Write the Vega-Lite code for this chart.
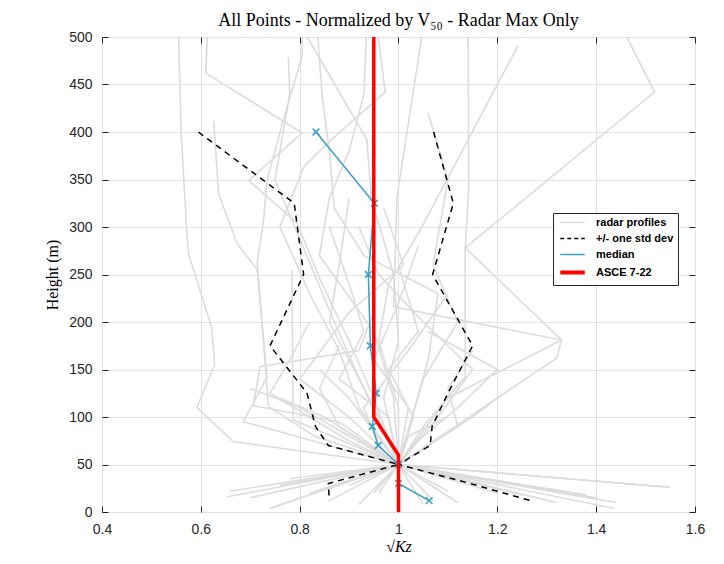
{
  "$schema": "https://vega.github.io/schema/vega-lite/v6.json",
  "width": 593,
  "height": 475,
  "autosize": {"type": "none"},
  "padding": {"left": 102, "top": 37, "right": 29, "bottom": 52},
  "background": "white",
  "config": {
    "view": {"stroke": "#262626", "strokeWidth": 1},
    "axis": {"domain": false, "labelFont": "Liberation Sans", "labelFontSize": 14, "labelColor": "#262626", "tickColor": "#262626", "tickSize": -6, "titleFont": "Liberation Serif", "titleFontWeight": "normal", "titleColor": "#000000", "titleFontSize": 16, "gridColor": "#e3e3e3", "gridWidth": 1}
  },
  "title": {"text": "All Points - Normalized by V₅₀ - Radar Max Only", "font": "Liberation Serif", "fontSize": 18, "fontWeight": "normal", "color": "#000000", "anchor": "middle", "offset": 0},
  "data": {"values": [
    {"s":"radar profiles","g":"p1","o":1,"x":0.555,"h":500},{"s":"radar profiles","g":"p1","o":2,"x":0.56,"h":400},{"s":"radar profiles","g":"p1","o":3,"x":0.571,"h":300},{"s":"radar profiles","g":"p1","o":4,"x":0.575,"h":272},{"s":"radar profiles","g":"p1","o":5,"x":0.622,"h":194},{"s":"radar profiles","g":"p1","o":6,"x":0.628,"h":155},{"s":"radar profiles","g":"p1","o":7,"x":0.592,"h":110},{"s":"radar profiles","g":"p1","o":8,"x":0.666,"h":74},{"s":"radar profiles","g":"p1","o":9,"x":1.0,"h":50},{"s":"radar profiles","g":"p1","o":10,"x":0.653,"h":16},
    {"s":"radar profiles","g":"p2","o":1,"x":0.613,"h":500},{"s":"radar profiles","g":"p2","o":2,"x":0.61,"h":462},{"s":"radar profiles","g":"p2","o":3,"x":0.805,"h":399},{"s":"radar profiles","g":"p2","o":4,"x":0.697,"h":349},{"s":"radar profiles","g":"p2","o":5,"x":0.795,"h":304},{"s":"radar profiles","g":"p2","o":6,"x":0.842,"h":244},{"s":"radar profiles","g":"p2","o":7,"x":0.9,"h":180},{"s":"radar profiles","g":"p2","o":8,"x":0.95,"h":120},{"s":"radar profiles","g":"p2","o":9,"x":1.0,"h":50},{"s":"radar profiles","g":"p2","o":10,"x":1.2,"h":20},
    {"s":"radar profiles","g":"p3","o":1,"x":0.805,"h":500},{"s":"radar profiles","g":"p3","o":2,"x":0.805,"h":480},{"s":"radar profiles","g":"p3","o":3,"x":0.767,"h":413},{"s":"radar profiles","g":"p3","o":4,"x":0.734,"h":349},{"s":"radar profiles","g":"p3","o":5,"x":0.727,"h":307},{"s":"radar profiles","g":"p3","o":6,"x":0.714,"h":263},{"s":"radar profiles","g":"p3","o":7,"x":0.737,"h":111},{"s":"radar profiles","g":"p3","o":8,"x":0.83,"h":80},{"s":"radar profiles","g":"p3","o":9,"x":1.0,"h":50},{"s":"radar profiles","g":"p3","o":10,"x":0.781,"h":35},
    {"s":"radar profiles","g":"p4","o":1,"x":0.626,"h":412},{"s":"radar profiles","g":"p4","o":2,"x":0.636,"h":335},{"s":"radar profiles","g":"p4","o":3,"x":0.673,"h":283},{"s":"radar profiles","g":"p4","o":4,"x":0.714,"h":255},{"s":"radar profiles","g":"p4","o":5,"x":0.734,"h":142},{"s":"radar profiles","g":"p4","o":6,"x":0.686,"h":95},{"s":"radar profiles","g":"p4","o":7,"x":1.0,"h":50},{"s":"radar profiles","g":"p4","o":8,"x":0.86,"h":25},
    {"s":"radar profiles","g":"p5","o":1,"x":0.815,"h":500},{"s":"radar profiles","g":"p5","o":2,"x":0.936,"h":392},{"s":"radar profiles","g":"p5","o":3,"x":0.945,"h":330},{"s":"radar profiles","g":"p5","o":4,"x":0.99,"h":250},{"s":"radar profiles","g":"p5","o":5,"x":1.0,"h":180},{"s":"radar profiles","g":"p5","o":6,"x":0.97,"h":120},{"s":"radar profiles","g":"p5","o":7,"x":1.0,"h":50},{"s":"radar profiles","g":"p5","o":8,"x":1.394,"h":14},
    {"s":"radar profiles","g":"p6","o":1,"x":0.837,"h":500},{"s":"radar profiles","g":"p6","o":2,"x":0.845,"h":440},{"s":"radar profiles","g":"p6","o":3,"x":0.86,"h":380},{"s":"radar profiles","g":"p6","o":4,"x":0.87,"h":320},{"s":"radar profiles","g":"p6","o":5,"x":0.93,"h":270},{"s":"radar profiles","g":"p6","o":6,"x":1.08,"h":230},{"s":"radar profiles","g":"p6","o":7,"x":1.06,"h":160},{"s":"radar profiles","g":"p6","o":8,"x":1.0,"h":50},{"s":"radar profiles","g":"p6","o":9,"x":0.741,"h":4},
    {"s":"radar profiles","g":"p7","o":1,"x":0.935,"h":500},{"s":"radar profiles","g":"p7","o":2,"x":0.93,"h":440},{"s":"radar profiles","g":"p7","o":3,"x":0.9,"h":380},{"s":"radar profiles","g":"p7","o":4,"x":0.86,"h":330},{"s":"radar profiles","g":"p7","o":5,"x":0.84,"h":270},{"s":"radar profiles","g":"p7","o":6,"x":0.95,"h":190},{"s":"radar profiles","g":"p7","o":7,"x":0.99,"h":120},{"s":"radar profiles","g":"p7","o":8,"x":1.0,"h":50},{"s":"radar profiles","g":"p7","o":9,"x":1.07,"h":12},
    {"s":"radar profiles","g":"p8","o":1,"x":0.959,"h":500},{"s":"radar profiles","g":"p8","o":2,"x":0.973,"h":442},{"s":"radar profiles","g":"p8","o":3,"x":0.862,"h":391},{"s":"radar profiles","g":"p8","o":4,"x":0.808,"h":363},{"s":"radar profiles","g":"p8","o":5,"x":0.76,"h":300},{"s":"radar profiles","g":"p8","o":6,"x":0.82,"h":230},{"s":"radar profiles","g":"p8","o":7,"x":0.88,"h":170},{"s":"radar profiles","g":"p8","o":8,"x":0.92,"h":110},{"s":"radar profiles","g":"p8","o":9,"x":1.0,"h":50},{"s":"radar profiles","g":"p8","o":10,"x":0.9,"h":28},
    {"s":"radar profiles","g":"p9","o":1,"x":1.047,"h":500},{"s":"radar profiles","g":"p9","o":2,"x":0.997,"h":332},{"s":"radar profiles","g":"p9","o":3,"x":0.99,"h":216},{"s":"radar profiles","g":"p9","o":4,"x":1.33,"h":181},{"s":"radar profiles","g":"p9","o":5,"x":1.1,"h":120},{"s":"radar profiles","g":"p9","o":6,"x":1.0,"h":50},{"s":"radar profiles","g":"p9","o":7,"x":1.25,"h":18},
    {"s":"radar profiles","g":"p10","o":1,"x":1.141,"h":500},{"s":"radar profiles","g":"p10","o":2,"x":1.142,"h":340},{"s":"radar profiles","g":"p10","o":3,"x":1.135,"h":278},{"s":"radar profiles","g":"p10","o":4,"x":1.135,"h":142},{"s":"radar profiles","g":"p10","o":5,"x":1.05,"h":90},{"s":"radar profiles","g":"p10","o":6,"x":1.0,"h":50},{"s":"radar profiles","g":"p10","o":7,"x":1.546,"h":26},
    {"s":"radar profiles","g":"p11","o":1,"x":1.462,"h":500},{"s":"radar profiles","g":"p11","o":2,"x":1.518,"h":442},{"s":"radar profiles","g":"p11","o":3,"x":1.135,"h":278},{"s":"radar profiles","g":"p11","o":4,"x":1.33,"h":181},{"s":"radar profiles","g":"p11","o":5,"x":1.32,"h":162},{"s":"radar profiles","g":"p11","o":6,"x":1.0,"h":50},{"s":"radar profiles","g":"p11","o":7,"x":1.435,"h":4},
    {"s":"radar profiles","g":"p12","o":1,"x":1.242,"h":491},{"s":"radar profiles","g":"p12","o":2,"x":1.044,"h":297},{"s":"radar profiles","g":"p12","o":3,"x":0.98,"h":240},{"s":"radar profiles","g":"p12","o":4,"x":0.96,"h":180},{"s":"radar profiles","g":"p12","o":5,"x":1.0,"h":110},{"s":"radar profiles","g":"p12","o":6,"x":1.0,"h":50},{"s":"radar profiles","g":"p12","o":7,"x":0.7,"h":15},
    {"s":"radar profiles","g":"p13","o":1,"x":0.777,"h":479},{"s":"radar profiles","g":"p13","o":2,"x":0.78,"h":440},{"s":"radar profiles","g":"p13","o":3,"x":0.75,"h":350},{"s":"radar profiles","g":"p13","o":4,"x":0.83,"h":250},{"s":"radar profiles","g":"p13","o":5,"x":0.87,"h":200},{"s":"radar profiles","g":"p13","o":6,"x":0.93,"h":130},{"s":"radar profiles","g":"p13","o":7,"x":1.0,"h":50},{"s":"radar profiles","g":"p13","o":8,"x":1.2,"h":25},
    {"s":"radar profiles","g":"p14","o":1,"x":0.784,"h":255},{"s":"radar profiles","g":"p14","o":2,"x":0.787,"h":97},{"s":"radar profiles","g":"p14","o":3,"x":1.0,"h":50},{"s":"radar profiles","g":"p14","o":4,"x":0.95,"h":20},
    {"s":"radar profiles","g":"p15","o":1,"x":0.9,"h":330},{"s":"radar profiles","g":"p15","o":2,"x":0.88,"h":260},{"s":"radar profiles","g":"p15","o":3,"x":0.86,"h":200},{"s":"radar profiles","g":"p15","o":4,"x":0.91,"h":150},{"s":"radar profiles","g":"p15","o":5,"x":0.97,"h":90},{"s":"radar profiles","g":"p15","o":6,"x":1.0,"h":50},{"s":"radar profiles","g":"p15","o":7,"x":1.12,"h":10},
    {"s":"radar profiles","g":"p16","o":1,"x":1.06,"h":420},{"s":"radar profiles","g":"p16","o":2,"x":1.1,"h":350},{"s":"radar profiles","g":"p16","o":3,"x":1.07,"h":260},{"s":"radar profiles","g":"p16","o":4,"x":1.12,"h":200},{"s":"radar profiles","g":"p16","o":5,"x":1.05,"h":140},{"s":"radar profiles","g":"p16","o":6,"x":1.0,"h":50},{"s":"radar profiles","g":"p16","o":7,"x":0.96,"h":20},
    {"s":"radar profiles","g":"p17","o":1,"x":0.92,"h":300},{"s":"radar profiles","g":"p17","o":2,"x":0.96,"h":250},{"s":"radar profiles","g":"p17","o":3,"x":1.05,"h":200},{"s":"radar profiles","g":"p17","o":4,"x":1.15,"h":150},{"s":"radar profiles","g":"p17","o":5,"x":1.08,"h":100},{"s":"radar profiles","g":"p17","o":6,"x":1.0,"h":50},{"s":"radar profiles","g":"p17","o":7,"x":1.4,"h":15},
    {"s":"radar profiles","g":"p18","o":1,"x":0.7,"h":130},{"s":"radar profiles","g":"p18","o":2,"x":0.8,"h":110},{"s":"radar profiles","g":"p18","o":3,"x":0.9,"h":80},{"s":"radar profiles","g":"p18","o":4,"x":1.0,"h":50},{"s":"radar profiles","g":"p18","o":5,"x":0.74,"h":4},
    {"s":"radar profiles","g":"p19","o":1,"x":0.88,"h":175},{"s":"radar profiles","g":"p19","o":2,"x":0.84,"h":130},{"s":"radar profiles","g":"p19","o":3,"x":0.88,"h":90},{"s":"radar profiles","g":"p19","o":4,"x":1.0,"h":50},{"s":"radar profiles","g":"p19","o":5,"x":1.3,"h":24},
    {"s":"radar profiles","g":"p20","o":1,"x":1.15,"h":170},{"s":"radar profiles","g":"p20","o":2,"x":1.1,"h":130},{"s":"radar profiles","g":"p20","o":3,"x":1.12,"h":90},{"s":"radar profiles","g":"p20","o":4,"x":1.0,"h":50},{"s":"radar profiles","g":"p20","o":5,"x":0.86,"h":12},
    {"s":"radar profiles","g":"p21","o":1,"x":1.2,"h":120},{"s":"radar profiles","g":"p21","o":2,"x":1.15,"h":100},{"s":"radar profiles","g":"p21","o":3,"x":1.06,"h":70},{"s":"radar profiles","g":"p21","o":4,"x":1.0,"h":50},{"s":"radar profiles","g":"p21","o":5,"x":1.18,"h":28},
    {"s":"radar profiles","g":"p22","o":1,"x":1.04,"h":280},{"s":"radar profiles","g":"p22","o":2,"x":1.0,"h":220},{"s":"radar profiles","g":"p22","o":3,"x":0.95,"h":160},{"s":"radar profiles","g":"p22","o":4,"x":1.02,"h":110},{"s":"radar profiles","g":"p22","o":5,"x":1.0,"h":50},{"s":"radar profiles","g":"p22","o":6,"x":0.82,"h":20},
    {"s":"radar profiles","g":"p23","o":1,"x":0.86,"h":300},{"s":"radar profiles","g":"p23","o":2,"x":0.9,"h":240},{"s":"radar profiles","g":"p23","o":3,"x":0.93,"h":190},{"s":"radar profiles","g":"p23","o":4,"x":0.88,"h":140},{"s":"radar profiles","g":"p23","o":5,"x":0.98,"h":100},{"s":"radar profiles","g":"p23","o":6,"x":1.0,"h":50},{"s":"radar profiles","g":"p23","o":7,"x":1.55,"h":26},
    {"s":"radar profiles","g":"p24","o":1,"x":0.95,"h":210},{"s":"radar profiles","g":"p24","o":2,"x":0.92,"h":170},{"s":"radar profiles","g":"p24","o":3,"x":0.72,"h":153},{"s":"radar profiles","g":"p24","o":4,"x":0.706,"h":112},{"s":"radar profiles","g":"p24","o":5,"x":0.88,"h":95},{"s":"radar profiles","g":"p24","o":6,"x":1.0,"h":50},{"s":"radar profiles","g":"p24","o":7,"x":1.0,"h":20},
    {"s":"radar profiles","g":"p25","o":1,"x":0.82,"h":200},{"s":"radar profiles","g":"p25","o":2,"x":0.78,"h":160},{"s":"radar profiles","g":"p25","o":3,"x":0.74,"h":125},{"s":"radar profiles","g":"p25","o":4,"x":0.9,"h":75},{"s":"radar profiles","g":"p25","o":5,"x":1.0,"h":50},{"s":"radar profiles","g":"p25","o":6,"x":0.66,"h":22},
    {"s":"radar profiles","g":"p26","o":1,"x":1.0,"h":260},{"s":"radar profiles","g":"p26","o":2,"x":1.04,"h":190},{"s":"radar profiles","g":"p26","o":3,"x":0.98,"h":150},{"s":"radar profiles","g":"p26","o":4,"x":1.03,"h":100},{"s":"radar profiles","g":"p26","o":5,"x":1.0,"h":50},{"s":"radar profiles","g":"p26","o":6,"x":1.05,"h":8},
    {"s":"radar profiles","g":"p27","o":1,"x":1.1,"h":230},{"s":"radar profiles","g":"p27","o":2,"x":1.02,"h":170},{"s":"radar profiles","g":"p27","o":3,"x":0.93,"h":110},{"s":"radar profiles","g":"p27","o":4,"x":0.96,"h":70},{"s":"radar profiles","g":"p27","o":5,"x":1.0,"h":50},{"s":"radar profiles","g":"p27","o":6,"x":1.38,"h":18},
    {"s":"radar profiles","g":"p28","o":1,"x":0.84,"h":150},{"s":"radar profiles","g":"p28","o":2,"x":0.9,"h":120},{"s":"radar profiles","g":"p28","o":3,"x":0.95,"h":85},{"s":"radar profiles","g":"p28","o":4,"x":1.0,"h":50},{"s":"radar profiles","g":"p28","o":5,"x":0.76,"h":28},
    {"s":"radar profiles","g":"p29","o":1,"x":1.06,"h":190},{"s":"radar profiles","g":"p29","o":2,"x":1.2,"h":150},{"s":"radar profiles","g":"p29","o":3,"x":1.12,"h":110},{"s":"radar profiles","g":"p29","o":4,"x":1.04,"h":75},{"s":"radar profiles","g":"p29","o":5,"x":1.0,"h":50},{"s":"radar profiles","g":"p29","o":6,"x":1.32,"h":10},
    {"s":"radar profiles","g":"p30","o":1,"x":0.97,"h":320},{"s":"radar profiles","g":"p30","o":2,"x":1.01,"h":260},{"s":"radar profiles","g":"p30","o":3,"x":0.9,"h":210},{"s":"radar profiles","g":"p30","o":4,"x":0.8,"h":140},{"s":"radar profiles","g":"p30","o":5,"x":0.9,"h":100},{"s":"radar profiles","g":"p30","o":6,"x":1.0,"h":50},{"s":"radar profiles","g":"p30","o":7,"x":0.92,"h":8},
    {"s":"radar profiles","g":"p31","o":1,"x":1.1,"h":100},{"s":"radar profiles","g":"p31","o":2,"x":1.02,"h":80},{"s":"radar profiles","g":"p31","o":3,"x":1.0,"h":50},{"s":"radar profiles","g":"p31","o":4,"x":1.44,"h":10},
    {"s":"radar profiles","g":"p32","o":1,"x":0.76,"h":120},{"s":"radar profiles","g":"p32","o":2,"x":0.85,"h":100},{"s":"radar profiles","g":"p32","o":3,"x":1.0,"h":50},{"s":"radar profiles","g":"p32","o":4,"x":1.1,"h":22},
    {"s":"+/- one std dev","g":"sl","o":1,"x":0.595,"h":400},{"s":"+/- one std dev","g":"sl","o":2,"x":0.789,"h":325},{"s":"+/- one std dev","g":"sl","o":3,"x":0.808,"h":250},{"s":"+/- one std dev","g":"sl","o":4,"x":0.74,"h":175},{"s":"+/- one std dev","g":"sl","o":5,"x":0.815,"h":125},{"s":"+/- one std dev","g":"sl","o":6,"x":0.832,"h":90},{"s":"+/- one std dev","g":"sl","o":7,"x":0.858,"h":70},{"s":"+/- one std dev","g":"sl","o":8,"x":1.0,"h":50},{"s":"+/- one std dev","g":"sl","o":9,"x":0.858,"h":30},{"s":"+/- one std dev","g":"sl","o":10,"x":0.86,"h":12},
    {"s":"+/- one std dev","g":"sr","o":1,"x":1.071,"h":400},{"s":"+/- one std dev","g":"sr","o":2,"x":1.111,"h":325},{"s":"+/- one std dev","g":"sr","o":3,"x":1.069,"h":250},{"s":"+/- one std dev","g":"sr","o":4,"x":1.15,"h":175},{"s":"+/- one std dev","g":"sr","o":5,"x":1.1,"h":125},{"s":"+/- one std dev","g":"sr","o":6,"x":1.068,"h":90},{"s":"+/- one std dev","g":"sr","o":7,"x":1.064,"h":70},{"s":"+/- one std dev","g":"sr","o":8,"x":1.0,"h":50},{"s":"+/- one std dev","g":"sr","o":9,"x":1.145,"h":30},{"s":"+/- one std dev","g":"sr","o":10,"x":1.267,"h":12},
    {"s":"median","g":"m","o":1,"x":0.833,"h":400},{"s":"median","g":"m","o":2,"x":0.951,"h":325},{"s":"median","g":"m","o":3,"x":0.939,"h":250},{"s":"median","g":"m","o":4,"x":0.943,"h":175},{"s":"median","g":"m","o":5,"x":0.955,"h":125},{"s":"median","g":"m","o":6,"x":0.947,"h":90},{"s":"median","g":"m","o":7,"x":0.959,"h":70},{"s":"median","g":"m","o":8,"x":1.0,"h":50},{"s":"median","g":"m","o":9,"x":1.0,"h":30},{"s":"median","g":"m","o":10,"x":1.062,"h":12},
    {"s":"ASCE 7-22","g":"a","o":1,"x":0.95,"h":500},{"s":"ASCE 7-22","g":"a","o":2,"x":0.95,"h":100},{"s":"ASCE 7-22","g":"a","o":3,"x":1.0,"h":60},{"s":"ASCE 7-22","g":"a","o":4,"x":1.0,"h":0}
  ]},
  "encoding": {
    "order": {"field": "o", "type": "quantitative"},
    "detail": {"field": "g", "type": "nominal"},
    "color": {
      "field": "s", "type": "nominal",
      "scale": {"domain": ["radar profiles", "+/- one std dev", "median", "ASCE 7-22"], "range": ["#dcdcdc", "#000000", "#3d9fc2", "#ff0000"]},
      "legend": {
        "title": null, "orient": "none", "legendX": 451, "legendY": 176,
        "symbolType": "stroke", "symbolSize": 600, "symbolStrokeWidth": 1.5,
        "labelFont": "Liberation Sans", "labelFontSize": 11, "labelFontWeight": "bold", "labelColor": "#000000",
        "strokeColor": "#262626", "fillColor": "#ffffff", "padding": 4, "rowPadding": 4, "labelOffset": 18, "symbolOffset": 10,
        "encode": {
          "symbols": {"update": {
            "strokeDash": {"signal": "datum.value === '+/- one std dev' ? [4, 3] : [1, 0]"},
            "strokeWidth": {"signal": "datum.value === 'ASCE 7-22' ? 4 : 1.5"}
          }}
        }
      }
    }
  },
  "resolve": {"axis": {"x": "independent", "y": "independent"}},
  "layer": [
    {
      "transform": [{"filter": "datum.s === 'radar profiles'"}],
      "mark": {"type": "line", "strokeWidth": 1.6},
      "encoding": {
        "x": {"field": "x", "type": "quantitative", "scale": {"domain": [0.4, 1.6], "nice": false, "zero": false},
          "axis": {"orient": "bottom", "values": [0.4, 0.6, 0.8, 1, 1.2, 1.4, 1.6], "format": "~g", "labelPadding": 16, "title": "√Kz", "titleFontStyle": "italic", "titlePadding": 2, "labelFlush": false}},
        "y": {"field": "h", "type": "quantitative", "scale": {"domain": [0, 500], "nice": false, "zero": false},
          "axis": {"orient": "left", "values": [0, 50, 100, 150, 200, 250, 300, 350, 400, 450, 500], "labelPadding": 16, "title": "Height (m)", "titlePadding": 8, "labelFlush": false}}
      }
    },
    {
      "transform": [{"filter": "datum.s === '+/- one std dev'"}],
      "mark": {"type": "line", "strokeWidth": 1.5, "strokeDash": [6, 5]},
      "encoding": {
        "x": {"field": "x", "type": "quantitative", "axis": {"orient": "top", "values": [0.4, 0.6, 0.8, 1, 1.2, 1.4, 1.6], "labels": false, "grid": false, "title": null, "minExtent": 0, "maxExtent": 0}},
        "y": {"field": "h", "type": "quantitative", "axis": {"orient": "right", "values": [0, 50, 100, 150, 200, 250, 300, 350, 400, 450, 500], "labels": false, "grid": false, "title": null}}
      }
    },
    {
      "transform": [{"filter": "datum.s === 'median'"}],
      "mark": {"type": "line", "strokeWidth": 1.5},
      "encoding": {
        "x": {"field": "x", "type": "quantitative", "axis": null},
        "y": {"field": "h", "type": "quantitative", "axis": null}
      }
    },
    {
      "transform": [{"filter": "datum.s === 'median'"}],
      "mark": {"type": "point", "shape": "M-1,-1L1,1M-1,1L1,-1", "filled": false, "size": 45, "strokeWidth": 1.5, "opacity": 1},
      "encoding": {
        "x": {"field": "x", "type": "quantitative", "axis": null},
        "y": {"field": "h", "type": "quantitative", "axis": null},
        "color": {"value": "#3d9fc2"}
      }
    },
    {
      "transform": [{"filter": "datum.s === 'ASCE 7-22'"}],
      "mark": {"type": "line", "strokeWidth": 3.5},
      "encoding": {
        "x": {"field": "x", "type": "quantitative", "axis": null},
        "y": {"field": "h", "type": "quantitative", "axis": null}
      }
    }
  ]
}
